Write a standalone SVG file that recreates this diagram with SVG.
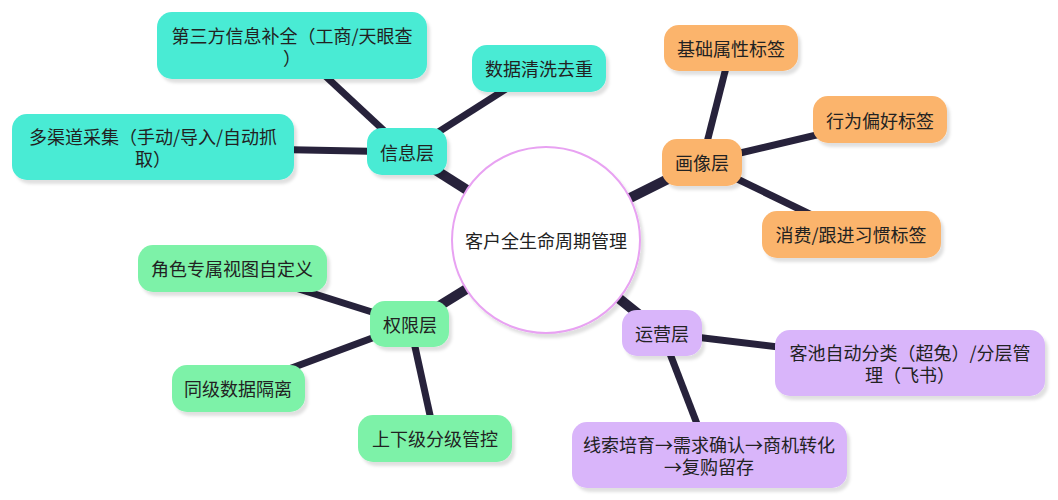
<svg xmlns="http://www.w3.org/2000/svg" width="1058" height="500" viewBox="0 0 1058 500">
<defs>
<filter id="sh" x="-20%" y="-20%" width="140%" height="150%">
<feDropShadow dx="3" dy="4" stdDeviation="1.5" flood-color="#000" flood-opacity="0.12"/>
</filter>
</defs>
<style>
.e1{stroke:#27223b;stroke-width:10;stroke-linecap:butt;fill:none}
.e2{stroke:#27223b;stroke-width:7;stroke-linecap:butt;fill:none}
.n rect,.n ellipse{filter:url(#sh)}
.info{fill:#48ebd4}
.prof{fill:#fbb46c}
.perm{fill:#7df2a8}
.ops{fill:#d9b5fa}
text{font-family:"Noto Sans CJK SC","Noto Sans",sans-serif;font-size:18px;fill:#222;text-anchor:middle;dominant-baseline:central}
</style>
<rect width="1058" height="500" fill="#fff"/>
<g id="connectors">
<line class="e1" x1="546" y1="240" x2="407" y2="152"/>
<line class="e1" x1="546" y1="240" x2="702" y2="162"/>
<line class="e1" x1="546" y1="240" x2="410" y2="324"/>
<line class="e1" x1="546" y1="240" x2="662" y2="333"/>
<line class="e2" x1="407" y1="152" x2="292" y2="45"/>
<line class="e2" x1="407" y1="152" x2="539" y2="68"/>
<line class="e2" x1="407" y1="152" x2="153" y2="147"/>
<line class="e2" x1="702" y1="162" x2="731" y2="48"/>
<line class="e2" x1="702" y1="162" x2="880" y2="120"/>
<line class="e2" x1="702" y1="162" x2="851" y2="234"/>
<line class="e2" x1="410" y1="324" x2="232" y2="268"/>
<line class="e2" x1="410" y1="324" x2="238" y2="388"/>
<line class="e2" x1="410" y1="324" x2="435" y2="438"/>
<line class="e2" x1="662" y1="333" x2="910" y2="363"/>
<line class="e2" x1="662" y1="333" x2="709" y2="455"/>
</g>
<g id="root" class="n">
<ellipse cx="546" cy="240" rx="94" ry="93" fill="#fff" stroke="#e8a2f2" stroke-width="2"/>
<text x="546" y="240">客户全生命周期管理</text>
</g>
<g id="info" class="n">
<rect class="info" x="367" y="128" width="80" height="47" rx="15"/>
<text x="407" y="152">信息层</text>
</g>
<g id="info1" class="n">
<rect class="info" x="157" y="12" width="270" height="67" rx="15"/>
<text x="292" y="35">第三方信息补全（工商/天眼查</text>
<text x="292" y="57">）</text>
</g>
<g id="info2" class="n">
<rect class="info" x="472" y="45" width="134" height="47" rx="15"/>
<text x="539" y="68">数据清洗去重</text>
</g>
<g id="info3" class="n">
<rect class="info" x="12" y="114" width="282" height="66" rx="15"/>
<text x="153" y="136">多渠道采集（手动/导入/自动抓</text>
<text x="153" y="158">取）</text>
</g>
<g id="prof" class="n">
<rect class="prof" x="662" y="139" width="80" height="47" rx="15"/>
<text x="702" y="162">画像层</text>
</g>
<g id="prof1" class="n">
<rect class="prof" x="664" y="25" width="134" height="46" rx="15"/>
<text x="731" y="48">基础属性标签</text>
</g>
<g id="prof2" class="n">
<rect class="prof" x="813" y="96" width="134" height="47" rx="15"/>
<text x="880" y="120">行为偏好标签</text>
</g>
<g id="prof3" class="n">
<rect class="prof" x="762" y="211" width="179" height="47" rx="15"/>
<text x="851" y="234">消费/跟进习惯标签</text>
</g>
<g id="perm" class="n">
<rect class="perm" x="370" y="301" width="79" height="46" rx="15"/>
<text x="410" y="324">权限层</text>
</g>
<g id="perm1" class="n">
<rect class="perm" x="138" y="245" width="189" height="47" rx="15"/>
<text x="232" y="268">角色专属视图自定义</text>
</g>
<g id="perm2" class="n">
<rect class="perm" x="172" y="365" width="133" height="47" rx="15"/>
<text x="238" y="388">同级数据隔离</text>
</g>
<g id="perm3" class="n">
<rect class="perm" x="358" y="415" width="154" height="47" rx="15"/>
<text x="435" y="438">上下级分级管控</text>
</g>
<g id="ops" class="n">
<rect class="ops" x="622" y="310" width="80" height="46" rx="15"/>
<text x="662" y="333">运营层</text>
</g>
<g id="ops1" class="n">
<rect class="ops" x="775" y="330" width="270" height="66" rx="15"/>
<text x="910" y="352">客池自动分类（超兔）/分层管</text>
<text x="910" y="374">理（飞书）</text>
</g>
<g id="ops2" class="n">
<rect class="ops" x="572" y="422" width="275" height="66" rx="15"/>
<text x="709" y="444">线索培育→需求确认→商机转化</text>
<text x="709" y="466">→复购留存</text>
</g>
</svg>
